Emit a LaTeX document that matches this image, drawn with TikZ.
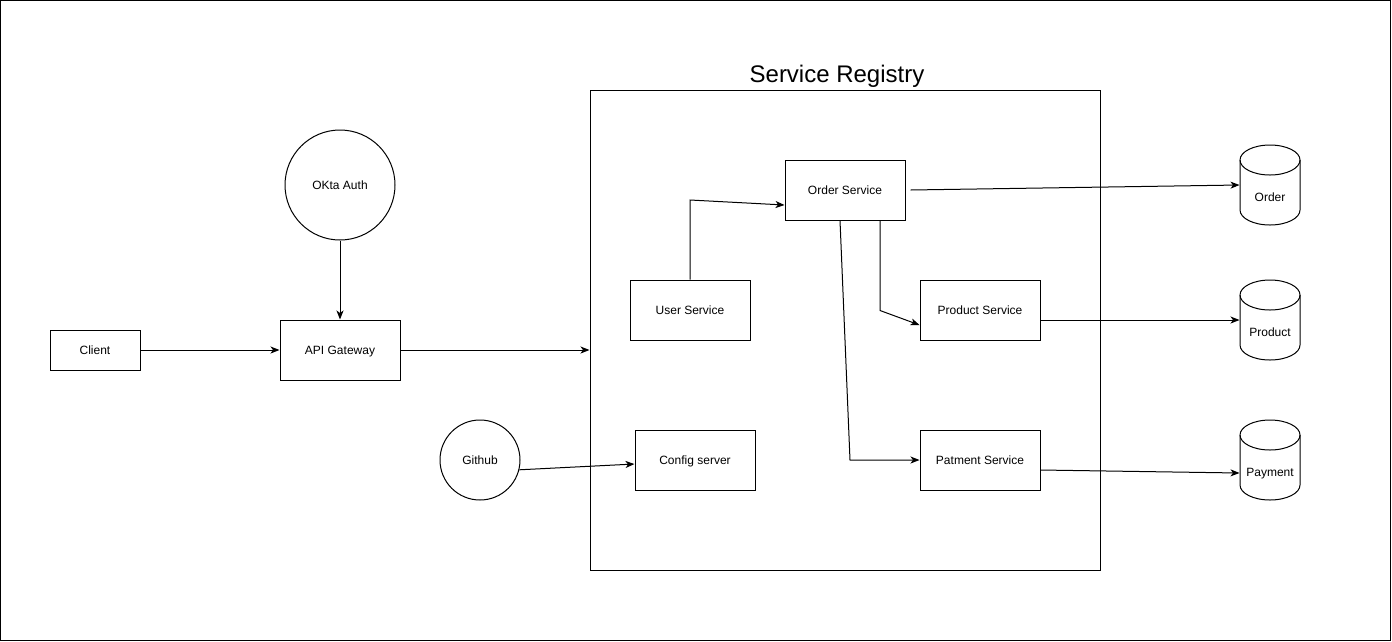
\documentclass[tikz,border=0pt]{standalone}
\usepackage{fontspec}
\setmainfont{Liberation Sans}
\usetikzlibrary{arrows.meta}

% cylinder for a data store: name, centre x, top y, text
\newcommand{\dbdrum}[4]{%
  \draw (#2-30,#3+15) -- (#2-30,#3+65) arc[start angle=180,end angle=360,x radius=30pt,y radius=15pt] -- (#2+30,#3+15);
  \draw (#2,#3+15) ellipse[x radius=30pt,y radius=15pt];
  \node[minimum width=60pt, minimum height=80pt, inner sep=0pt] (#1) at (#2,#3+40) {};
  \node[txt] (#1 label) at (#2,#3+52) {#4};
}

\tikzset{
  txt/.style={font=\fontsize{12}{14}\selectfont, text height=11pt, text depth=2.4pt},
  svcbox/.style={draw, txt, minimum width=120pt, minimum height=60pt, inner sep=0pt},
  flow/.style={-{Stealth[length=9pt,width=7pt,inset=2.5pt]}},
}

\begin{document}
\begin{tikzpicture}[x=1pt, y=-1pt, line width=1pt]
    \useasboundingbox (0,0) rectangle (1392,641);
    \draw (0.5,0.5) rectangle (1390.5,640.5);

    % Service Registry
    \node[draw, minimum width=510pt, minimum height=480pt, inner sep=0pt] (registry) at (845,330) {};
    \node[font=\fontsize{24}{28}\selectfont, text height=20pt, text depth=6pt] (registry title) at (837,75) {Service Registry};

    % Knoten
    \node[draw, txt, minimum width=90pt, minimum height=40pt, inner sep=0pt] (client) at (95,350) {Client};
    \node[svcbox] (gateway) at (340,350) {API Gateway};
    \node[draw, circle, txt, minimum size=110pt, inner sep=0pt] (okta) at (340,185) {OKta Auth};
    \node[draw, circle, txt, minimum size=80pt, inner sep=0pt] (github) at (480,460) {Github};

    \node[svcbox] (user) at (690,310) {User Service};
    \node[svcbox] (config) at (695,460) {Config server};
    \node[svcbox] (order) at (845,190) {Order Service};
    \node[svcbox] (product) at (980,310) {Product Service};
    \node[svcbox] (patment) at (980,460) {Patment Service};

    % Datenbanken
    \dbdrum{orderdb}{1270}{145}{Order}
    \dbdrum{productdb}{1270}{280}{Product}
    \dbdrum{paymentdb}{1270}{420}{Payment}

    % Pfeile
    \draw[flow] (client) -- (gateway);
    \draw[flow] (okta) -- (gateway);
    \draw[flow] (gateway.east) -- (gateway.east -| registry.west);
    \draw[flow] (github.-14) -- ([yshift=-4pt]config.west);
    \draw[flow] (user.north) -- (690,200) -- ([yshift=-15pt]order.west);
    \draw[flow] ([xshift=35pt]order.south) -- ++(0,90) -- ([yshift=-15pt]product.west);
    \draw[flow] ([xshift=-5pt]order.south) -- (850,460) -- (patment.west);
    \draw[flow] ([xshift=5pt]order.east) -- (orderdb.west);
    \draw[flow] ([yshift=-10pt]product.east) -- (productdb.west);
    \draw[flow] ([yshift=-10pt]patment.east) -- ([yshift=-13pt]paymentdb.west);
\end{tikzpicture}
\end{document}
